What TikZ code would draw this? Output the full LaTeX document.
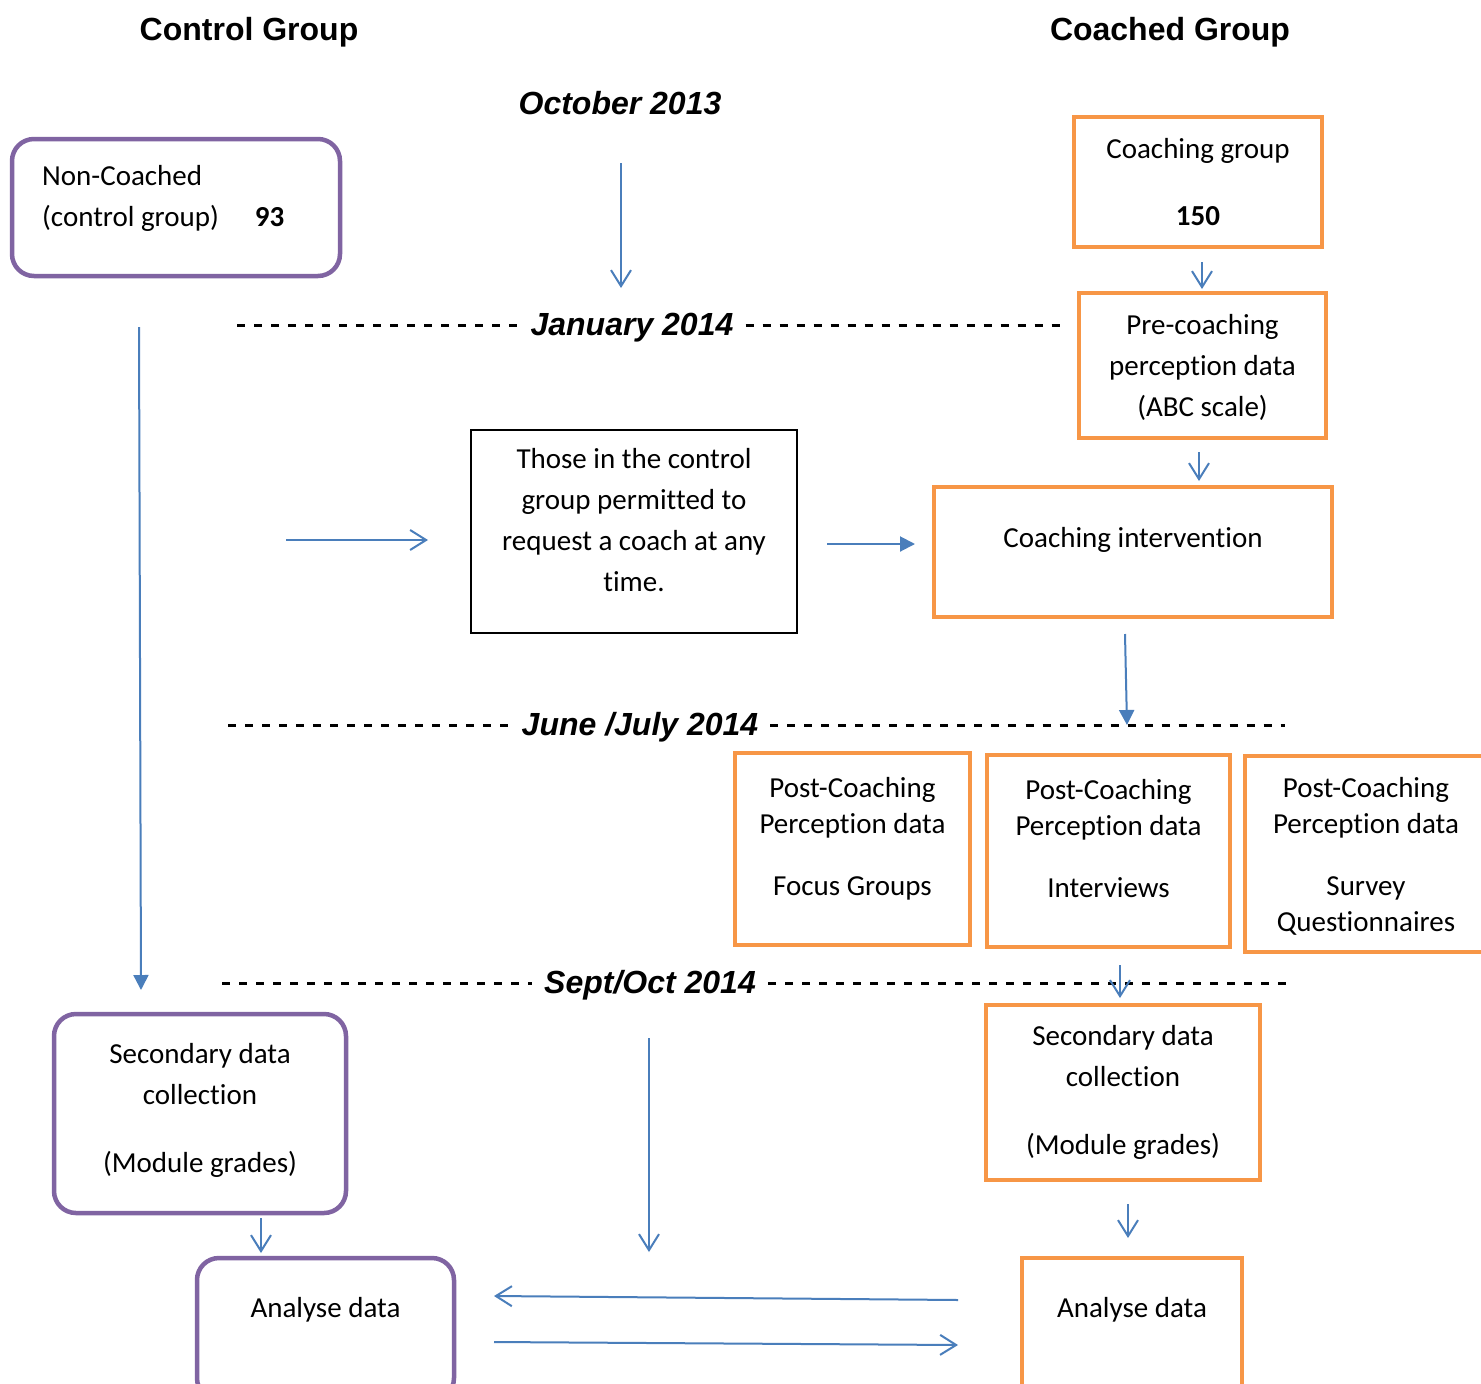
\documentclass[tikz,border=0pt]{standalone}
\usepackage{fontspec}
\setmainfont{Carlito}[Ligatures=NoCommon,Contextuals=NoAlternate]
\newfontfamily\arialfont{Liberation Sans}
\usetikzlibrary{arrows.meta,positioning}
\definecolor{boxorange}{HTML}{F79646}
\definecolor{boxpurple}{HTML}{8064A2}
\definecolor{linkblue}{HTML}{4A7EBB}
\newcommand\topline{\rule{0pt}{24pt}}
\tikzset{
  obox/.style = {draw=boxorange, line width=4.5pt, inner sep=0pt, outer sep=0pt},
  pbox/.style = {draw=boxpurple, line width=4.5pt, rounded corners=22pt, inner sep=0pt, outer sep=0pt},
  kbox/.style = {draw=black, line width=2pt, inner sep=0pt, outer sep=0pt},
  boxtext/.style = {align=center, inner sep=0pt, anchor=north, font=\fontsize{29}{41}\selectfont},
  tighttext/.style = {boxtext, font=\fontsize{29}{36}\selectfont},
  headtext/.style = {anchor=base, inner sep=0pt, font=\arialfont\bfseries\fontsize{32}{38}\selectfont},
  datetext/.style = {headtext, font=\arialfont\bfseries\itshape\fontsize{32}{38}\selectfont, inner xsep=12pt},
  dashline/.style = {line width=3pt, dash pattern=on 8pt off 9pt},
  openarrow/.style = {draw=linkblue, line width=2pt, -{Straight Barb[length=16pt,width=20pt]}},
  fillarrow/.style = {draw=linkblue, line width=2pt, -{Triangle[length=15pt,width=15pt]}},
}
\begin{document}
\begin{tikzpicture}[x=1pt,y=-1pt]
\clip (0,0) rectangle (1481,1384);
\fill[white] (0,0) rectangle (1481,1384);
% headings
\node[headtext] (control) at (249,40) {Control Group};
\node[headtext] (coached) at (1170,40) {Coached Group};
\node[datetext] (oct) at (620,114) {October 2013};

% control group side
\node[pbox, minimum width=328pt, minimum height=137pt] (ncbox) at (176,207.5) {};
\node[boxtext, align=left, anchor=north west] (nctext) at ([xshift=30pt,yshift=-22pt]ncbox.north west)
  {\topline Non-Coached\\(control group)\hspace{36pt}\textbf{93}};
\node[pbox, minimum width=292pt, minimum height=199pt] (sdlbox) at (200,1113.5) {};
\node[boxtext, below=25pt of sdlbox.north] (sdltext) {\topline Secondary data\\collection\\[27pt](Module grades)};
\node[pbox, minimum width=257pt, minimum height=142pt] (adlbox) at (325.5,1329) {};
\node[boxtext, below=35pt of adlbox.north] (adltext) {\topline Analyse data};

% coached group side
\node[obox, minimum width=248pt, minimum height=130pt] (cgbox) at (1198,182) {};
\node[boxtext, below=17pt of cgbox.north] (cgtext) {\topline Coaching group\\[26pt]\textbf{150}};
\node[obox, minimum width=247pt, minimum height=145pt] (prebox) at (1202.5,365.5) {};
\node[boxtext, below=17pt of prebox.north] (pretext) {\topline Pre-coaching\\perception data\\(ABC scale)};
\node[obox, minimum width=398pt, minimum height=130pt] (cibox) at (1133,552) {};
\node[boxtext, below=36pt of cibox.north] (citext) {\topline Coaching intervention};
\node[obox, minimum width=235pt, minimum height=192pt] (pcabox) at (852.5,849) {};
\node[tighttext, below=20pt of pcabox.north] (pcatext) {\topline Post-Coaching\\Perception data\\[26pt]Focus Groups};
\node[obox, minimum width=243pt, minimum height=192pt] (pcbbox) at (1108.5,851) {};
\node[tighttext, below=20pt of pcbbox.north] (pcbtext) {\topline Post-Coaching\\Perception data\\[26pt]Interviews};
\node[obox, minimum width=242pt, minimum height=196pt] (pccbox) at (1366,854) {};
\node[tighttext, below=17pt of pccbox.north] (pcctext) {\topline Post-Coaching\\Perception data\\[26pt]Survey\\Questionnaires};
\node[obox, minimum width=274pt, minimum height=175pt] (sdrbox) at (1123,1092.5) {};
\node[boxtext, below=16pt of sdrbox.north] (sdrtext) {\topline Secondary data\\collection\\[27pt](Module grades)};
\node[obox, minimum width=220pt, minimum height=130pt] (adrbox) at (1132,1323) {};
\node[boxtext, below=35pt of adrbox.north] (adrtext) {\topline Analyse data};

% control group may ask for a coach
\node[kbox, minimum width=326pt, minimum height=203pt] (askbox) at (634,531.5) {};
\node[boxtext, below=14pt of askbox.north] (asktext) {\topline Those in the control\\group permitted to\\request a coach at any\\time.};

% time lines
\node[datetext] (jan) at (632,335) {January 2014};
\coordinate (janl) at (237,325);
\coordinate (janr) at (1065,325);
\draw[dashline] (janl) -- (janl -| jan.west);
\draw[dashline] (jan.east |- janr) -- (janr);
\node[datetext] (jun) at (640,735) {June /July 2014};
\coordinate (junl) at (228,725);
\coordinate (junr) at (1285,725);
\draw[dashline] (junl) -- (junl -| jun.west);
\draw[dashline] (jun.east |- junr) -- (junr);
\node[datetext] (sep) at (650,993) {Sept/Oct 2014};
\coordinate (sepl) at (222,983);
\coordinate (sepr) at (1292,983);
\draw[dashline] (sepl) -- (sepl -| sep.west);
\draw[dashline] (sep.east |- sepr) -- (sepr);

% arrows
\coordinate (octa) at (621,163);   \coordinate (octb) at (621,288);
\coordinate (cga)  at (1202,262);  \coordinate (cgb)  at (1202,289);
\coordinate (prea) at (1199,452);  \coordinate (preb) at (1199,481);
\coordinate (nca)  at (139,327);   \coordinate (ncb)  at (141,990);
\coordinate (aska) at (286,540);   \coordinate (askb) at (428,540);
\coordinate (cia)  at (827,544);   \coordinate (cib)  at (915,544);
\coordinate (pca)  at (1125,634);  \coordinate (pcb)  at (1127,725);
\coordinate (sra)  at (1120,965);  \coordinate (srb)  at (1120,998);
\coordinate (mida) at (649,1038);  \coordinate (midb) at (649,1252);
\coordinate (ara)  at (1128,1204); \coordinate (arb)  at (1128,1238);
\coordinate (ala)  at (261,1218);  \coordinate (alb)  at (261,1253);
\coordinate (backa) at (958,1300); \coordinate (backb) at (494,1296);
\coordinate (fwda) at (494,1342);  \coordinate (fwdb) at (958,1345);
\draw[openarrow] (octa) -- (octb);
\draw[openarrow] (cga) -- (cgb);
\draw[openarrow] (prea) -- (preb);
\draw[fillarrow] (nca) -- (ncb);
\draw[openarrow] (aska) -- (askb);
\draw[fillarrow] (cia) -- (cib);
\draw[fillarrow] (pca) -- (pcb);
\draw[openarrow] (sra) -- (srb);
\draw[openarrow] (mida) -- (midb);
\draw[openarrow] (ara) -- (arb);
\draw[openarrow] (ala) -- (alb);
\draw[openarrow] (backa) -- (backb);
\draw[openarrow] (fwda) -- (fwdb);
\end{tikzpicture}
\end{document}
